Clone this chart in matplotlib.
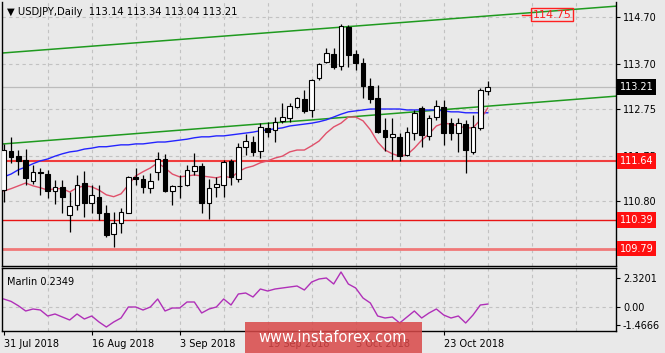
import numpy as np
import matplotlib.pyplot as plt
from matplotlib.patches import Rectangle
from matplotlib.transforms import blended_transform_factory

# USDJPY daily candles, 31 Jul 2018 .. 31 Oct 2018
opens = [111.03, 111.86, 111.75, 111.67, 111.23, 111.42, 111.37, 111.01, 111.10, 110.51,
         110.72, 111.18, 110.76, 110.89, 110.55, 110.10, 110.34, 110.55, 111.31, 111.27,
         111.08, 111.42, 111.69, 111.01, 111.12, 111.14, 111.44, 111.54, 110.76, 111.10,
         111.14, 111.65, 111.27, 111.95, 112.05, 111.86, 112.35, 112.31, 112.50, 112.56,
         112.79, 112.96, 112.73, 113.41, 113.75, 113.92, 113.66, 114.49, 113.92, 113.73,
         113.24, 112.98, 112.31, 112.16, 112.16, 111.78, 112.24, 112.77, 112.18, 112.58,
         112.79, 112.45, 112.24, 112.43, 111.84, 112.35, 113.14]
highs = [112.00, 112.16, 111.88, 111.90, 111.56, 111.50, 111.46, 111.25, 111.25, 110.99,
         111.35, 111.44, 111.14, 111.14, 110.72, 110.57, 110.65, 111.33, 111.50, 111.35,
         111.40, 111.84, 111.80, 111.14, 111.35, 111.56, 111.82, 111.61, 111.27, 111.31,
         111.67, 111.69, 112.03, 112.22, 112.18, 112.45, 112.48, 112.58, 112.88, 112.88,
         113.00, 113.15, 113.39, 113.73, 114.04, 114.04, 114.55, 114.53, 114.00, 113.83,
         113.41, 113.26, 112.56, 112.56, 112.24, 112.37, 112.73, 112.81, 112.62, 112.94,
         112.94, 112.56, 112.56, 112.52, 112.62, 113.19, 113.34]
lows = [110.78, 111.61, 111.35, 111.14, 111.16, 110.93, 110.87, 110.74, 110.55, 110.15,
        110.61, 110.46, 110.55, 110.40, 110.04, 109.83, 110.12, 110.55, 111.14, 110.97,
        110.97, 111.25, 110.99, 110.72, 110.87, 111.12, 111.35, 110.55, 110.42, 110.89,
        110.89, 111.14, 111.20, 111.78, 111.75, 111.71, 112.16, 112.05, 112.45, 112.48,
        112.77, 112.67, 112.58, 113.37, 113.73, 113.60, 113.58, 113.64, 113.58, 112.98,
        112.88, 112.24, 111.86, 111.67, 111.65, 111.75, 112.09, 111.95, 112.09, 112.52,
        111.99, 112.09, 111.84, 111.40, 111.80, 112.31, 113.04]
closes = [111.88, 111.73, 111.65, 111.29, 111.42, 111.40, 111.01, 111.10, 110.89, 110.70,
          111.14, 110.76, 110.93, 110.55, 110.08, 110.34, 110.57, 111.31, 111.27, 111.10,
          111.23, 111.69, 111.01, 111.12, 111.11, 111.46, 111.54, 110.76, 111.08, 111.16,
          111.63, 111.31, 111.95, 112.07, 111.84, 112.37, 112.26, 112.48, 112.58, 112.81,
          112.98, 112.71, 113.37, 113.70, 113.94, 113.64, 114.51, 113.89, 113.73, 113.24,
          112.96, 112.26, 112.16, 112.22, 111.75, 112.26, 112.67, 112.20, 112.56, 112.81,
          112.24, 112.24, 112.45, 111.88, 112.37, 113.15, 113.21]

# moving averages as drawn
ma_fast = [111.01, 111.06, 111.12, 111.18, 111.12, 111.08, 111.03, 111.06, 111.06, 110.99,
           111.08, 111.12, 111.10, 111.03, 110.93, 110.89, 110.95, 111.14, 111.33, 111.42,
           111.50, 111.61, 111.50, 111.37, 111.31, 111.33, 111.35, 111.33, 111.31, 111.29,
           111.33, 111.29, 111.42, 111.50, 111.54, 111.61, 111.65, 111.71, 111.75, 111.84,
           111.88, 111.88, 111.97, 112.07, 112.24, 112.37, 112.45, 112.58, 112.58, 112.50,
           112.31, 112.05, 111.88, 111.80, 111.75, 111.78, 111.92, 112.09, 112.22, 112.39,
           112.45, 112.43, 112.39, 112.35, 112.35, 112.52, 112.77]
ma_slow = [111.31, 111.37, 111.46, 111.52, 111.59, 111.65, 111.69, 111.75, 111.80, 111.84,
           111.86, 111.90, 111.92, 111.95, 111.95, 111.97, 111.99, 111.99, 112.01, 112.01,
           112.03, 112.05, 112.05, 112.07, 112.09, 112.11, 112.14, 112.16, 112.16, 112.18,
           112.18, 112.20, 112.22, 112.24, 112.26, 112.29, 112.31, 112.33, 112.35, 112.39,
           112.41, 112.43, 112.45, 112.48, 112.52, 112.58, 112.64, 112.69, 112.71, 112.73,
           112.75, 112.75, 112.75, 112.75, 112.75, 112.73, 112.73, 112.73, 112.73, 112.73,
           112.71, 112.69, 112.69, 112.67, 112.67, 112.67, 112.67]

# Marlin oscillator
marlin = [0.64, 0.45, 0.10, -0.32, -0.16, -0.24, -0.72, -0.56, -0.80, -1.04,
          -0.56, -0.96, -0.72, -1.20, -1.60, -1.20, -0.88, 0.00, 0.00, -0.24,
          0.00, 0.64, -0.32, -0.08, -0.08, 0.40, 0.40, -0.48, -0.16, 0.00,
          0.64, 0.16, 1.04, 1.12, 0.80, 1.44, 1.28, 1.44, 1.52, 1.60,
          1.68, 1.36, 2.00, 2.24, 2.32, 1.84, 2.80, 1.84, 1.52, 0.72,
          0.32, -0.72, -0.88, -0.80, -1.28, -0.80, -0.32, -0.88, -0.48, -0.16,
          -0.64, -0.88, -0.72, -1.28, -0.64, 0.16, 0.2349]

# trend lines (bar index, price)
upper_trend = ([0, 80], [113.94, 114.89])
lower_trend = ([0, 80], [112.01, 112.98])

levels = [111.64, 110.39, 109.79]
level_colors = ['#f03c3c', '#e81414', '#f07878']
level_widths = [1.5, 1.0, 2.0]

price_ticks = [114.70, 113.70, 112.75, 111.75, 110.80]
osc_ticks = [2.3201, 0.0, -1.4666]
osc_tick_labels = ['2.3201', '0.00', '-1.4666']
date_idx = [0, 12, 24, 36, 48, 60]
date_labels = ['31 Jul 2018', '16 Aug 2018', '3 Sep 2018', '19 Sep 2018', '5 Oct 2018', '23 Oct 2018']
last_price = 113.21

bg = '#e9e9e9'
W, H = 665, 353
fig = plt.figure(figsize=(W / 100, H / 100), dpi=100, facecolor=bg)
ax = fig.add_axes([2 / W, 1 - 266 / H, 614 / W, 264 / H], facecolor=bg)
sub = fig.add_axes([2 / W, 1 - 331 / H, 614 / W, 63 / H], facecolor=bg)

n = len(opens)
x = np.arange(n)
xmin, xmax = -0.23, 83.5
grid_kw = dict(color='#c2c2c2', lw=0.8, ls=(0, (3, 3)), zorder=0)

for a in (ax, sub):
    a.set_xlim(xmin, xmax)
    for g in range(6, 84, 6):
        a.axvline(g, **grid_kw)
    for s in a.spines.values():
        s.set_color('black')
        s.set_linewidth(1)
ax.spines['top'].set_visible(False)

# main panel
ax.set_ylim(109.42, 115.02)
for t in price_ticks:
    ax.axhline(t, **grid_kw)
ax.axhline(last_price, color='#bcbcbc', lw=0.9, zorder=0)

# trend lines, extended to both edges
for tr in (upper_trend, lower_trend):
    slope = (tr[1][1] - tr[1][0]) / (tr[0][1] - tr[0][0])
    ax.plot([xmin, xmax], [tr[1][0] + slope * (xmin - tr[0][0]), tr[1][0] + slope * (xmax - tr[0][0])],
            color='#1f9a1f', lw=1.1, zorder=1)

for lv, c, lw in zip(levels, level_colors, level_widths):
    ax.axhline(lv, color=c, lw=lw, zorder=1)

ax.plot(x, ma_slow, color='#2424ff', lw=1.0, zorder=2)
ax.plot(x, ma_fast, color='#e0506a', lw=1.0, zorder=2)

o = np.array(opens); c = np.array(closes)
up = c >= o
ax.vlines(x, lows, highs, color='black', lw=0.9, zorder=3)
body_h = np.maximum(np.abs(c - o), 0.008)
ax.bar(x[up], body_h[up], bottom=o[up], width=0.65, color='white', edgecolor='black', lw=0.8, zorder=4)
ax.bar(x[~up], body_h[~up], bottom=c[~up], width=0.65, color='black', edgecolor='black', lw=0.8, zorder=4)

ax.yaxis.tick_right()
ax.set_yticks(price_ticks)
ax.set_yticklabels(['%.2f' % t for t in price_ticks])
ax.tick_params(axis='y', length=3, pad=2, labelsize=7, colors='black')
ax.set_xticks([])

tr = blended_transform_factory(ax.transAxes, ax.transData)
for lv in levels:
    ax.text(1.006, lv, '%.2f' % lv, transform=tr, ha='left', va='center', fontsize=7, color='white',
            bbox=dict(boxstyle='square,pad=0.3', fc='#ff1010', ec='none'), zorder=6, clip_on=False)
ax.text(1.006, last_price, '%.2f' % last_price, transform=tr, ha='left', va='center', fontsize=7,
        color='white', bbox=dict(boxstyle='square,pad=0.3', fc='black', ec='none'), zorder=6, clip_on=False)

# 114.75 label object
ax.plot([70.7, 71.9], [114.75, 114.75], color='#ff2020', lw=1, zorder=2)
ax.text(72.1, 114.75, '114.75', ha='left', va='center', fontsize=8, color='#ff2020',
        bbox=dict(boxstyle='square,pad=0.15', fc='none', ec='#ff2020', lw=1), zorder=5)

ax.text(0.008, 0.982, '\u25bc USDJPY,Daily  113.14 113.34 113.04 113.21', transform=ax.transAxes,
        ha='left', va='top', fontsize=7.2, color='black')

# oscillator panel
sub.set_ylim(-1.92, 3.12)
sub.axhline(0, **grid_kw)
sub.plot(x, marlin, color='#b030b8', lw=1.0, zorder=2)
sub.yaxis.tick_right()
sub.set_yticks(osc_ticks)
sub.set_yticklabels(osc_tick_labels)
sub.tick_params(axis='y', length=3, pad=2, labelsize=7)
sub.set_xticks(date_idx)
sub.set_xticklabels(date_labels, ha='left', fontsize=7)
sub.tick_params(axis='x', length=3, pad=3)
sub.text(0.008, 0.86, 'Marlin 0.2349', transform=sub.transAxes, ha='left', va='top', fontsize=7)

# watermark
fig.add_artist(Rectangle((245 / W, 0), 177 / W, 31 / H, transform=fig.transFigure,
                         fc='#d94848', ec='none', alpha=0.85, zorder=10))
fig.text(333 / W, 1 - 337 / H, 'www.instaforex.com', ha='center', va='center', fontsize=10.5,
         color='white', zorder=11)

fig.savefig('out.png', dpi=100, facecolor=bg)
